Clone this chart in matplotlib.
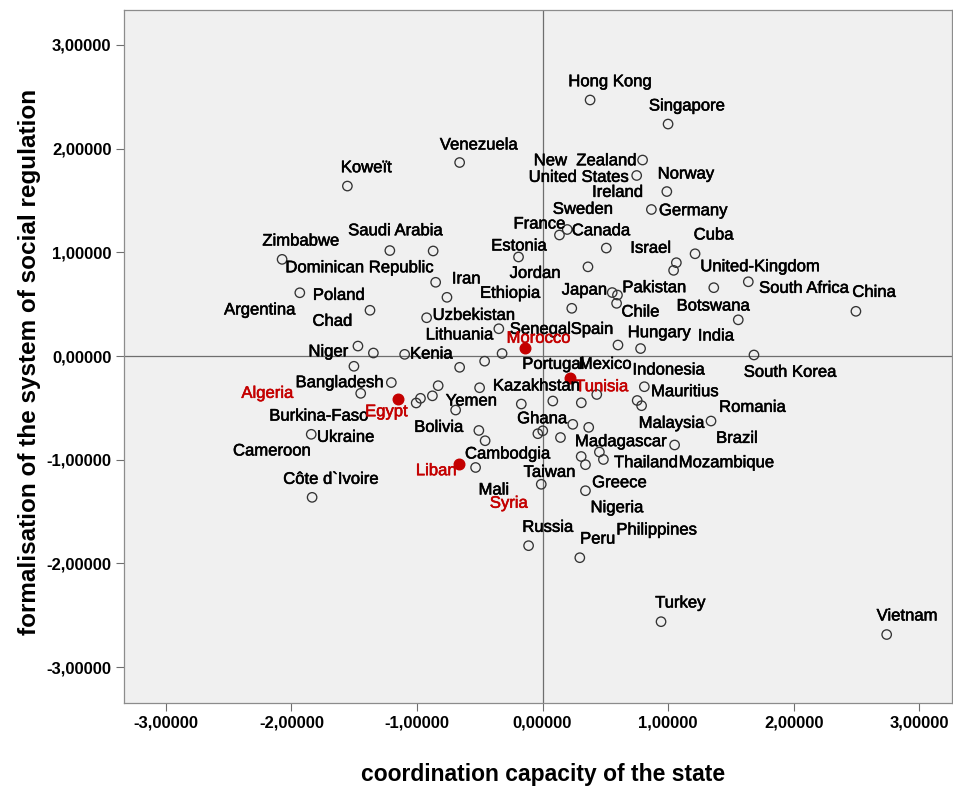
import matplotlib
matplotlib.use("Agg")
import matplotlib.pyplot as plt
import matplotlib.patheffects as pe
from matplotlib.ticker import FuncFormatter

plt.rcParams['font.family'] = ['Liberation Sans', 'DejaVu Sans']

# open circles (countries)
pts_x = [-1.554, -0.660, 0.379, 1.000, 0.797, 0.750, 0.990, 0.867, 0.135, 0.197,
         0.508, -0.191, -1.216, -0.871, -2.074, 1.215, 1.066, 1.044, 1.639, 1.364,
         2.496, 0.362, 0.555, 0.597, 0.590, 0.233, 1.559, -0.851, -0.761, -1.933,
         -1.374, -0.923, -0.348, -1.470, -1.347, -1.098, -0.322, 0.601, 0.781, 1.684,
         -1.502, -0.660, -0.461, -1.204, -1.448, -0.831, -0.877, -0.972, -1.006, -0.692,
         -0.501, -0.169, -1.842, -1.835, -0.507, -0.457, -0.533, 0.811, 0.432, 0.082,
         0.309, 0.754, 0.789, 0.241, 0.368, -0.037, 0.002, 0.143, 1.052, 1.342,
         0.453, 0.485, 0.308, 0.342, -0.010, 0.342, -0.111, 0.297, 0.944, 2.741]
pts_y = [1.639, 1.866, 2.469, 2.237, 1.890, 1.741, 1.586, 1.413, 1.167, 1.220,
         1.041, 0.955, 1.017, 1.013, 0.932, 0.986, 0.900, 0.826, 0.716, 0.659,
         0.431, 0.860, 0.612, 0.588, 0.508, 0.460, 0.349, 0.711, 0.566, 0.610,
         0.441, 0.369, 0.263, 0.096, 0.029, 0.016, 0.024, 0.106, 0.072, 0.010,
         -0.099, -0.109, -0.050, -0.256, -0.360, -0.286, -0.384, -0.408, -0.453, -0.521,
         -0.306, -0.463, -0.755, -1.363, -0.718, -0.817, -1.075, -0.296, -0.371, -0.434,
         -0.451, -0.429, -0.479, -0.659, -0.688, -0.749, -0.721, -0.786, -0.858, -0.627,
         -0.926, -0.998, -0.969, -1.048, -1.237, -1.299, -1.829, -1.945, -2.562, -2.686]

# highlighted countries (filled red)
red_names = ["Morocco", "Egypt", "Liban", "Tunisia"]
red_x = [-0.143, -1.152, -0.663, 0.220]
red_y = [0.080, -0.418, -1.043, -0.212]

# labels as placed in the original chart
lab_names = ["Koweït", "Venezuela", "Hong Kong", "Singapore", "New  Zealand", "United States",
             "Ireland", "Norway", "Sweden", "Germany", "France", "Canada", "Estonia", "Israel",
             "Cuba", "United-Kingdom", "South Africa", "China", "Saudi Arabia", "Zimbabwe",
             "Dominican Republic", "Iran", "Jordan", "Ethiopia", "Japan", "Pakistan", "Chile",
             "Botswana", "Poland", "Argentina", "Chad", "Uzbekistan", "Lithuania", "Senegal",
             "Spain", "Hungary", "India", "Niger", "Kenia", "South Korea", "Portugal", "Mexico",
             "Indonesia", "Kazakhstan", "Mauritius", "Romania", "Bangladesh", "Burkina-Faso",
             "Yemen", "Ghana", "Malaysia", "Bolivia", "Ukraine", "Brazil", "Madagascar",
             "Cameroon", "Cambodgia", "Thailand", "Mozambique", "Taiwan", "Côte d`Ivoire",
             "Greece", "Mali", "Nigeria", "Russia", "Philippines", "Peru", "Turkey", "Vietnam",
             "Morocco", "Tunisia", "Algeria", "Egypt", "Liban", "Syria"]
lab_x = [-1.403, -0.507, 0.539, 1.151, 0.340, 0.288,
         0.599, 1.143, 0.321, 1.201, -0.024, 0.467, -0.187, 0.862,
         1.363, 1.734, 2.084, 2.641, -1.169, -1.925,
         -1.456, -0.607, -0.058, -0.257, 0.334, 0.891, 0.780,
         1.360, -1.621, -2.251, -1.673, -0.547, -0.660, -0.017,
         0.394, 0.931, 1.382, -1.705, -0.885, 1.973, 0.088, 0.500,
         1.005, -0.048, 1.135, 1.673, -1.615, -1.780,
         -0.567, -0.002, 1.029, -0.825, -1.567, 1.549, 0.626,
         -2.154, -0.276, 0.825, 1.466, 0.056, -1.684,
         0.613, -0.387, 0.594, 0.042, 0.909, 0.440, 1.098, 2.904,
         -0.030, 0.472, -2.190, -1.243, -0.846, -0.268]
lab_y = [1.816, 2.035, 2.645, 2.411, 1.883, 1.723,
         1.578, 1.755, 1.415, 1.401, 1.273, 1.208, 1.061, 1.039,
         1.167, 0.861, 0.653, 0.614, 1.208, 1.109,
         0.851, 0.743, 0.797, 0.605, 0.636, 0.659, 0.424,
         0.482, 0.585, 0.444, 0.335, 0.392, 0.203, 0.257,
         0.257, 0.225, 0.193, 0.041, 0.019, -0.157, -0.080, -0.080,
         -0.135, -0.289, -0.344, -0.495, -0.257, -0.579,
         -0.434, -0.605, -0.649, -0.688, -0.784, -0.794, -0.826,
         -0.916, -0.945, -1.029, -1.029, -1.122, -1.189,
         -1.222, -1.292, -1.463, -1.652, -1.678, -1.765, -2.382, -2.507,
         0.171, -0.296, -0.360, -0.537, -1.106, -1.420]
red_labels = ["Morocco", "Tunisia", "Algeria", "Egypt", "Liban", "Syria"]

RED = "#c40000"

fig = plt.figure(figsize=(9.54, 7.92), dpi=100)
ax = fig.add_axes([0.130, 0.1124, 0.868, 0.875])
ax.set_facecolor("#f0f0f0")

ax.axhline(0, color="#6e6e6e", lw=0.9, zorder=1)
ax.axvline(0, color="#6e6e6e", lw=0.9, zorder=1)

ax.scatter(pts_x, pts_y, s=46, facecolors="none", edgecolors="#333333", linewidths=0.95, zorder=2)
ax.scatter(red_x, red_y, s=58, color=RED, zorder=3)

for name, lx, ly in zip(lab_names, lab_x, lab_y):
    col = RED if name in red_labels else "black"
    ax.text(lx, ly, name, ha="center", va="center", fontsize=12, color=col, zorder=4,
            path_effects=[pe.withStroke(linewidth=0.4, foreground=col)])

ax.set_xlim(-3.333, 3.262)
ax.set_ylim(-3.346, 3.337)
ticks = [-3, -2, -1, 0, 1, 2, 3]
ax.set_xticks(ticks)
ax.set_yticks(ticks)
fmt = FuncFormatter(lambda v, p: "{:.5f}".format(v).replace(".", ","))
ax.xaxis.set_major_formatter(fmt)
ax.yaxis.set_major_formatter(fmt)
ax.tick_params(length=6, width=0.8, color="#6e6e6e", labelsize=12, pad=3)
for lbl in ax.get_xticklabels() + ax.get_yticklabels():
    lbl.set_fontweight("bold")
for sp in ax.spines.values():
    sp.set_color("#8c8c8c")
    sp.set_linewidth(0.9)

fig.text(0.569, 1 - 775 / 792, "coordination capacity of the state", ha="center", va="center",
         fontsize=16.5, fontweight="bold")
fig.text(30 / 954, 1 - 362 / 792, "formalisation of the system of social regulation", ha="center",
         va="center", rotation=90, fontsize=17.5, fontweight="bold")

fig.savefig("out.png", dpi=100)
